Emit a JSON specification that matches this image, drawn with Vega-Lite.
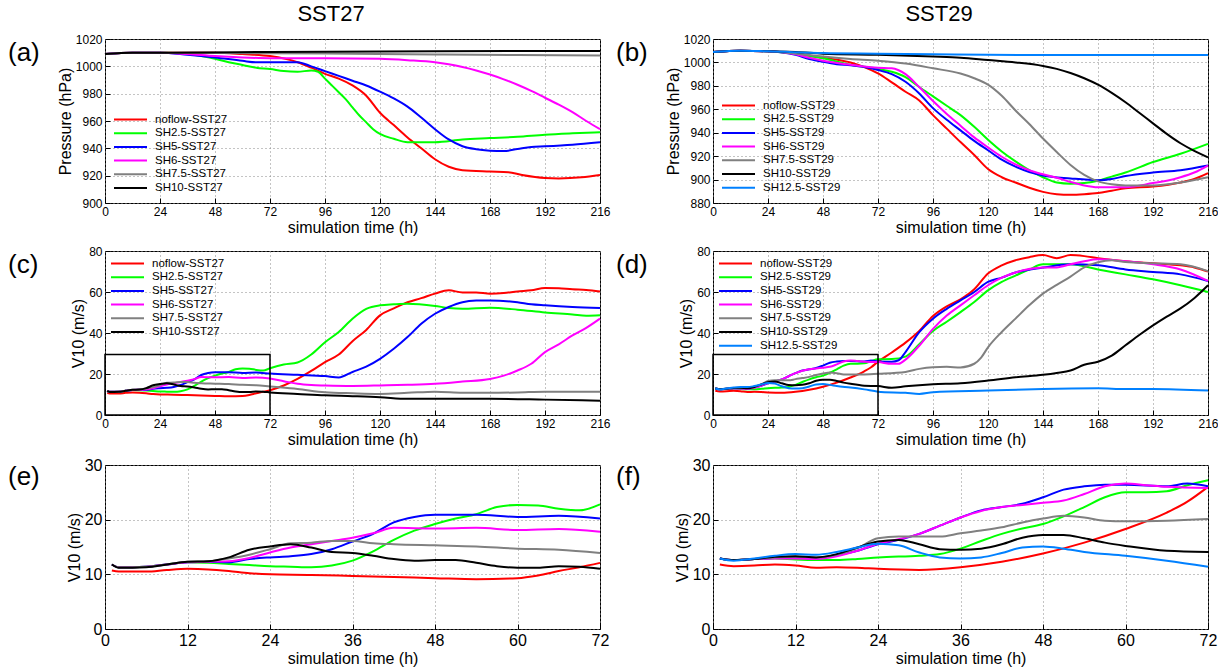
{
  "$schema": "https://vega.github.io/schema/vega-lite/v6.json",
  "background": "white",
  "padding": {"left": 7, "top": 2, "right": 0, "bottom": 0},
  "config": {
    "font": "Liberation Sans",
    "view": {"stroke": "#000", "strokeWidth": 1},
    "axis": {"domain": false, "tickSize": -5, "tickColor": "#000", "labelPadding": 8, "labelFontSize": 12, "labelColor": "#000", "titleFontSize": 16, "titleFontWeight": "normal", "titleColor": "#000", "titlePadding": 2, "grid": true, "gridDash": [1, 3], "gridColor": "#888", "gridWidth": 1, "labelFlush": false, "labelOverlap": false},
    "legend": {"symbolType": "M-3,0H3", "symbolSize": 121, "symbolStrokeWidth": 2, "labelFontSize": 11.5, "labelColor": "#000", "padding": 0, "rowPadding": 1.7, "symbolOffset": 10, "labelOffset": 18, "labelLimit": 200},
    "title": {"fontWeight": "normal", "color": "#000"}
  },
  "datasets": {
    "box": [{"t0": 0, "t1": 72, "v0": 0, "v1": 29.5}],
    "p27": [
      {"s":"noflow-SST27","t":0,"v":1009},{"s":"noflow-SST27","t":12,"v":1010},{"s":"noflow-SST27","t":24,"v":1010},{"s":"noflow-SST27","t":36,"v":1010},{"s":"noflow-SST27","t":48,"v":1010},{"s":"noflow-SST27","t":60,"v":1009},{"s":"noflow-SST27","t":72,"v":1007.5},{"s":"noflow-SST27","t":84,"v":1003},{"s":"noflow-SST27","t":90,"v":999},{"s":"noflow-SST27","t":96,"v":994.5},{"s":"noflow-SST27","t":102,"v":991},{"s":"noflow-SST27","t":108,"v":986},{"s":"noflow-SST27","t":114,"v":978.5},{"s":"noflow-SST27","t":120,"v":966},{"s":"noflow-SST27","t":126,"v":957},{"s":"noflow-SST27","t":132,"v":948},{"s":"noflow-SST27","t":138,"v":940},{"s":"noflow-SST27","t":144,"v":932},{"s":"noflow-SST27","t":150,"v":926.5},{"s":"noflow-SST27","t":156,"v":924},{"s":"noflow-SST27","t":168,"v":923},{"s":"noflow-SST27","t":176,"v":922.5},{"s":"noflow-SST27","t":182,"v":920.5},{"s":"noflow-SST27","t":192,"v":918.3},{"s":"noflow-SST27","t":198,"v":918},{"s":"noflow-SST27","t":208,"v":918.8},{"s":"noflow-SST27","t":216,"v":920.5},
      {"s":"SH2.5-SST27","t":0,"v":1009},{"s":"SH2.5-SST27","t":12,"v":1010},{"s":"SH2.5-SST27","t":24,"v":1010},{"s":"SH2.5-SST27","t":36,"v":1009},{"s":"SH2.5-SST27","t":42,"v":1007.5},{"s":"SH2.5-SST27","t":48,"v":1005.5},{"s":"SH2.5-SST27","t":54,"v":1003},{"s":"SH2.5-SST27","t":60,"v":1001},{"s":"SH2.5-SST27","t":66,"v":999},{"s":"SH2.5-SST27","t":72,"v":998},{"s":"SH2.5-SST27","t":78,"v":996.5},{"s":"SH2.5-SST27","t":84,"v":996},{"s":"SH2.5-SST27","t":90,"v":997},{"s":"SH2.5-SST27","t":93,"v":996},{"s":"SH2.5-SST27","t":96,"v":991},{"s":"SH2.5-SST27","t":99,"v":986},{"s":"SH2.5-SST27","t":102,"v":981},{"s":"SH2.5-SST27","t":105,"v":976},{"s":"SH2.5-SST27","t":108,"v":970},{"s":"SH2.5-SST27","t":111,"v":964},{"s":"SH2.5-SST27","t":114,"v":959},{"s":"SH2.5-SST27","t":117,"v":954},{"s":"SH2.5-SST27","t":120,"v":950.5},{"s":"SH2.5-SST27","t":126,"v":947},{"s":"SH2.5-SST27","t":132,"v":944.5},{"s":"SH2.5-SST27","t":144,"v":944.5},{"s":"SH2.5-SST27","t":156,"v":946.5},{"s":"SH2.5-SST27","t":168,"v":947.5},{"s":"SH2.5-SST27","t":180,"v":948.5},{"s":"SH2.5-SST27","t":192,"v":950},{"s":"SH2.5-SST27","t":204,"v":951},{"s":"SH2.5-SST27","t":216,"v":951.8},
      {"s":"SH5-SST27","t":0,"v":1009},{"s":"SH5-SST27","t":12,"v":1010},{"s":"SH5-SST27","t":24,"v":1010},{"s":"SH5-SST27","t":36,"v":1008.5},{"s":"SH5-SST27","t":48,"v":1006.5},{"s":"SH5-SST27","t":60,"v":1004},{"s":"SH5-SST27","t":66,"v":1003},{"s":"SH5-SST27","t":72,"v":1003},{"s":"SH5-SST27","t":84,"v":1003},{"s":"SH5-SST27","t":90,"v":1000},{"s":"SH5-SST27","t":96,"v":996.5},{"s":"SH5-SST27","t":102,"v":993},{"s":"SH5-SST27","t":108,"v":989.5},{"s":"SH5-SST27","t":114,"v":986},{"s":"SH5-SST27","t":120,"v":981.5},{"s":"SH5-SST27","t":126,"v":976.5},{"s":"SH5-SST27","t":132,"v":970.5},{"s":"SH5-SST27","t":138,"v":962.5},{"s":"SH5-SST27","t":144,"v":954},{"s":"SH5-SST27","t":150,"v":946.5},{"s":"SH5-SST27","t":156,"v":941.5},{"s":"SH5-SST27","t":162,"v":939.3},{"s":"SH5-SST27","t":168,"v":938.3},{"s":"SH5-SST27","t":174,"v":938},{"s":"SH5-SST27","t":180,"v":939.5},{"s":"SH5-SST27","t":186,"v":941},{"s":"SH5-SST27","t":192,"v":941.5},{"s":"SH5-SST27","t":204,"v":942.7},{"s":"SH5-SST27","t":216,"v":944.4},
      {"s":"SH6-SST27","t":0,"v":1009},{"s":"SH6-SST27","t":12,"v":1010},{"s":"SH6-SST27","t":24,"v":1010},{"s":"SH6-SST27","t":36,"v":1009},{"s":"SH6-SST27","t":48,"v":1007.5},{"s":"SH6-SST27","t":60,"v":1006.5},{"s":"SH6-SST27","t":72,"v":1006},{"s":"SH6-SST27","t":96,"v":1006},{"s":"SH6-SST27","t":120,"v":1005.5},{"s":"SH6-SST27","t":132,"v":1004.5},{"s":"SH6-SST27","t":144,"v":1003},{"s":"SH6-SST27","t":150,"v":1001.5},{"s":"SH6-SST27","t":156,"v":999.5},{"s":"SH6-SST27","t":162,"v":997},{"s":"SH6-SST27","t":168,"v":994},{"s":"SH6-SST27","t":174,"v":990.5},{"s":"SH6-SST27","t":180,"v":986.5},{"s":"SH6-SST27","t":186,"v":982},{"s":"SH6-SST27","t":192,"v":977},{"s":"SH6-SST27","t":198,"v":972},{"s":"SH6-SST27","t":204,"v":966.5},{"s":"SH6-SST27","t":210,"v":960},{"s":"SH6-SST27","t":216,"v":954},
      {"s":"SH7.5-SST27","t":0,"v":1009},{"s":"SH7.5-SST27","t":12,"v":1010},{"s":"SH7.5-SST27","t":24,"v":1010},{"s":"SH7.5-SST27","t":48,"v":1009.8},{"s":"SH7.5-SST27","t":96,"v":1009.3},{"s":"SH7.5-SST27","t":144,"v":1008.7},{"s":"SH7.5-SST27","t":180,"v":1008.3},{"s":"SH7.5-SST27","t":216,"v":1008},
      {"s":"SH10-SST27","t":0,"v":1009},{"s":"SH10-SST27","t":12,"v":1010},{"s":"SH10-SST27","t":24,"v":1010},{"s":"SH10-SST27","t":72,"v":1010.5},{"s":"SH10-SST27","t":144,"v":1011},{"s":"SH10-SST27","t":216,"v":1011.3}
    ],
    "p29": [
      {"s":"noflow-SST29","t":0,"v":1009},{"s":"noflow-SST29","t":12,"v":1010},{"s":"noflow-SST29","t":24,"v":1009.5},{"s":"noflow-SST29","t":36,"v":1007.5},{"s":"noflow-SST29","t":48,"v":1004},{"s":"noflow-SST29","t":60,"v":1000},{"s":"noflow-SST29","t":66,"v":996},{"s":"noflow-SST29","t":72,"v":990.6},{"s":"noflow-SST29","t":78,"v":983},{"s":"noflow-SST29","t":84,"v":975},{"s":"noflow-SST29","t":90,"v":967.5},{"s":"noflow-SST29","t":96,"v":955},{"s":"noflow-SST29","t":102,"v":943.5},{"s":"noflow-SST29","t":108,"v":932},{"s":"noflow-SST29","t":114,"v":921},{"s":"noflow-SST29","t":120,"v":909},{"s":"noflow-SST29","t":126,"v":902},{"s":"noflow-SST29","t":132,"v":897.5},{"s":"noflow-SST29","t":138,"v":893},{"s":"noflow-SST29","t":144,"v":889.5},{"s":"noflow-SST29","t":150,"v":887.5},{"s":"noflow-SST29","t":156,"v":887},{"s":"noflow-SST29","t":162,"v":887.5},{"s":"noflow-SST29","t":168,"v":888.5},{"s":"noflow-SST29","t":174,"v":890.5},{"s":"noflow-SST29","t":180,"v":892.5},{"s":"noflow-SST29","t":192,"v":894},{"s":"noflow-SST29","t":204,"v":897.5},{"s":"noflow-SST29","t":210,"v":900.5},{"s":"noflow-SST29","t":216,"v":905.5},
      {"s":"SH2.5-SST29","t":0,"v":1009},{"s":"SH2.5-SST29","t":12,"v":1010},{"s":"SH2.5-SST29","t":24,"v":1009.5},{"s":"SH2.5-SST29","t":36,"v":1007.5},{"s":"SH2.5-SST29","t":48,"v":1003.5},{"s":"SH2.5-SST29","t":60,"v":998},{"s":"SH2.5-SST29","t":72,"v":994.5},{"s":"SH2.5-SST29","t":78,"v":992},{"s":"SH2.5-SST29","t":84,"v":987.5},{"s":"SH2.5-SST29","t":90,"v":979},{"s":"SH2.5-SST29","t":96,"v":971},{"s":"SH2.5-SST29","t":102,"v":963},{"s":"SH2.5-SST29","t":108,"v":955},{"s":"SH2.5-SST29","t":114,"v":945},{"s":"SH2.5-SST29","t":120,"v":934},{"s":"SH2.5-SST29","t":126,"v":924},{"s":"SH2.5-SST29","t":132,"v":915.5},{"s":"SH2.5-SST29","t":138,"v":908},{"s":"SH2.5-SST29","t":144,"v":902},{"s":"SH2.5-SST29","t":150,"v":897.5},{"s":"SH2.5-SST29","t":156,"v":896.5},{"s":"SH2.5-SST29","t":162,"v":897},{"s":"SH2.5-SST29","t":168,"v":899},{"s":"SH2.5-SST29","t":174,"v":902.5},{"s":"SH2.5-SST29","t":180,"v":906},{"s":"SH2.5-SST29","t":192,"v":915},{"s":"SH2.5-SST29","t":204,"v":922},{"s":"SH2.5-SST29","t":216,"v":930.5},
      {"s":"SH5-SST29","t":0,"v":1009},{"s":"SH5-SST29","t":12,"v":1010},{"s":"SH5-SST29","t":24,"v":1009.5},{"s":"SH5-SST29","t":36,"v":1006.5},{"s":"SH5-SST29","t":42,"v":1003},{"s":"SH5-SST29","t":48,"v":1000.5},{"s":"SH5-SST29","t":54,"v":998.5},{"s":"SH5-SST29","t":60,"v":997.5},{"s":"SH5-SST29","t":66,"v":996},{"s":"SH5-SST29","t":72,"v":993.5},{"s":"SH5-SST29","t":78,"v":990},{"s":"SH5-SST29","t":84,"v":983.5},{"s":"SH5-SST29","t":90,"v":973.5},{"s":"SH5-SST29","t":96,"v":961},{"s":"SH5-SST29","t":102,"v":951},{"s":"SH5-SST29","t":108,"v":942},{"s":"SH5-SST29","t":114,"v":933},{"s":"SH5-SST29","t":120,"v":925},{"s":"SH5-SST29","t":126,"v":917},{"s":"SH5-SST29","t":132,"v":911},{"s":"SH5-SST29","t":138,"v":906.5},{"s":"SH5-SST29","t":144,"v":903.5},{"s":"SH5-SST29","t":156,"v":901},{"s":"SH5-SST29","t":168,"v":899.5},{"s":"SH5-SST29","t":174,"v":900.5},{"s":"SH5-SST29","t":180,"v":903},{"s":"SH5-SST29","t":192,"v":906},{"s":"SH5-SST29","t":204,"v":908},{"s":"SH5-SST29","t":216,"v":912},
      {"s":"SH6-SST29","t":0,"v":1009},{"s":"SH6-SST29","t":12,"v":1010},{"s":"SH6-SST29","t":24,"v":1009.5},{"s":"SH6-SST29","t":36,"v":1007},{"s":"SH6-SST29","t":42,"v":1004},{"s":"SH6-SST29","t":48,"v":1001.5},{"s":"SH6-SST29","t":60,"v":998},{"s":"SH6-SST29","t":66,"v":996.5},{"s":"SH6-SST29","t":72,"v":995.5},{"s":"SH6-SST29","t":78,"v":995},{"s":"SH6-SST29","t":84,"v":990},{"s":"SH6-SST29","t":90,"v":979},{"s":"SH6-SST29","t":96,"v":967},{"s":"SH6-SST29","t":102,"v":956},{"s":"SH6-SST29","t":108,"v":946},{"s":"SH6-SST29","t":114,"v":936},{"s":"SH6-SST29","t":120,"v":927.5},{"s":"SH6-SST29","t":126,"v":919.5},{"s":"SH6-SST29","t":132,"v":913},{"s":"SH6-SST29","t":138,"v":908},{"s":"SH6-SST29","t":144,"v":904.5},{"s":"SH6-SST29","t":150,"v":901.5},{"s":"SH6-SST29","t":156,"v":898},{"s":"SH6-SST29","t":162,"v":895},{"s":"SH6-SST29","t":168,"v":893.5},{"s":"SH6-SST29","t":180,"v":893.5},{"s":"SH6-SST29","t":192,"v":897},{"s":"SH6-SST29","t":198,"v":899},{"s":"SH6-SST29","t":204,"v":902},{"s":"SH6-SST29","t":210,"v":906},{"s":"SH6-SST29","t":216,"v":912},
      {"s":"SH7.5-SST29","t":0,"v":1009},{"s":"SH7.5-SST29","t":12,"v":1010},{"s":"SH7.5-SST29","t":24,"v":1009.5},{"s":"SH7.5-SST29","t":36,"v":1007.5},{"s":"SH7.5-SST29","t":48,"v":1005},{"s":"SH7.5-SST29","t":60,"v":1003},{"s":"SH7.5-SST29","t":72,"v":1001.4},{"s":"SH7.5-SST29","t":84,"v":999},{"s":"SH7.5-SST29","t":96,"v":995},{"s":"SH7.5-SST29","t":108,"v":990.5},{"s":"SH7.5-SST29","t":114,"v":986.5},{"s":"SH7.5-SST29","t":120,"v":981},{"s":"SH7.5-SST29","t":126,"v":971.5},{"s":"SH7.5-SST29","t":132,"v":959},{"s":"SH7.5-SST29","t":138,"v":947.5},{"s":"SH7.5-SST29","t":144,"v":935},{"s":"SH7.5-SST29","t":150,"v":923.5},{"s":"SH7.5-SST29","t":156,"v":912.5},{"s":"SH7.5-SST29","t":162,"v":904},{"s":"SH7.5-SST29","t":168,"v":898.5},{"s":"SH7.5-SST29","t":174,"v":896},{"s":"SH7.5-SST29","t":180,"v":895},{"s":"SH7.5-SST29","t":192,"v":895},{"s":"SH7.5-SST29","t":204,"v":897.5},{"s":"SH7.5-SST29","t":216,"v":902},
      {"s":"SH10-SST29","t":0,"v":1009},{"s":"SH10-SST29","t":12,"v":1010},{"s":"SH10-SST29","t":24,"v":1009.5},{"s":"SH10-SST29","t":36,"v":1009},{"s":"SH10-SST29","t":48,"v":1007.5},{"s":"SH10-SST29","t":72,"v":1006.5},{"s":"SH10-SST29","t":96,"v":1005},{"s":"SH10-SST29","t":108,"v":1004},{"s":"SH10-SST29","t":120,"v":1002},{"s":"SH10-SST29","t":132,"v":1000},{"s":"SH10-SST29","t":144,"v":997},{"s":"SH10-SST29","t":150,"v":994.5},{"s":"SH10-SST29","t":156,"v":991},{"s":"SH10-SST29","t":162,"v":986.5},{"s":"SH10-SST29","t":168,"v":981},{"s":"SH10-SST29","t":174,"v":974},{"s":"SH10-SST29","t":180,"v":966},{"s":"SH10-SST29","t":186,"v":957},{"s":"SH10-SST29","t":192,"v":948},{"s":"SH10-SST29","t":198,"v":939},{"s":"SH10-SST29","t":204,"v":931},{"s":"SH10-SST29","t":210,"v":924.5},{"s":"SH10-SST29","t":216,"v":919},
      {"s":"SH12.5-SST29","t":0,"v":1009},{"s":"SH12.5-SST29","t":12,"v":1010},{"s":"SH12.5-SST29","t":24,"v":1009.5},{"s":"SH12.5-SST29","t":48,"v":1008},{"s":"SH12.5-SST29","t":72,"v":1007.5},{"s":"SH12.5-SST29","t":96,"v":1007},{"s":"SH12.5-SST29","t":120,"v":1006.5},{"s":"SH12.5-SST29","t":168,"v":1006.3},{"s":"SH12.5-SST29","t":216,"v":1006.3}
    ],
    "v27": [
      {"s":"noflow-SST27","t":1,"v":10.7},{"s":"noflow-SST27","t":2,"v":10.5},{"s":"noflow-SST27","t":6,"v":10.5},{"s":"noflow-SST27","t":9,"v":10.8},{"s":"noflow-SST27","t":12,"v":11},{"s":"noflow-SST27","t":15,"v":10.9},{"s":"noflow-SST27","t":18,"v":10.6},{"s":"noflow-SST27","t":21,"v":10.2},{"s":"noflow-SST27","t":24,"v":10},{"s":"noflow-SST27","t":30,"v":9.9},{"s":"noflow-SST27","t":36,"v":9.7},{"s":"noflow-SST27","t":42,"v":9.5},{"s":"noflow-SST27","t":48,"v":9.3},{"s":"noflow-SST27","t":54,"v":9.1},{"s":"noflow-SST27","t":60,"v":9.3},{"s":"noflow-SST27","t":63,"v":9.8},{"s":"noflow-SST27","t":66,"v":10.6},{"s":"noflow-SST27","t":69,"v":11.3},{"s":"noflow-SST27","t":72,"v":12.1},{"s":"noflow-SST27","t":78,"v":14.4},{"s":"noflow-SST27","t":84,"v":17.6},{"s":"noflow-SST27","t":90,"v":21.5},{"s":"noflow-SST27","t":96,"v":25.8},{"s":"noflow-SST27","t":102,"v":29.5},{"s":"noflow-SST27","t":108,"v":36},{"s":"noflow-SST27","t":114,"v":41.5},{"s":"noflow-SST27","t":120,"v":48.6},{"s":"noflow-SST27","t":126,"v":52},{"s":"noflow-SST27","t":132,"v":55},{"s":"noflow-SST27","t":138,"v":57},{"s":"noflow-SST27","t":144,"v":59.2},{"s":"noflow-SST27","t":150,"v":60.8},{"s":"noflow-SST27","t":156,"v":59.8},{"s":"noflow-SST27","t":162,"v":59.8},{"s":"noflow-SST27","t":168,"v":59.2},{"s":"noflow-SST27","t":174,"v":59.5},{"s":"noflow-SST27","t":180,"v":60.3},{"s":"noflow-SST27","t":186,"v":60.8},{"s":"noflow-SST27","t":192,"v":62},{"s":"noflow-SST27","t":198,"v":61.8},{"s":"noflow-SST27","t":204,"v":61.3},{"s":"noflow-SST27","t":210,"v":61},{"s":"noflow-SST27","t":216,"v":60.3},
      {"s":"SH2.5-SST27","t":1,"v":11.8},{"s":"SH2.5-SST27","t":2,"v":11.3},{"s":"SH2.5-SST27","t":6,"v":11.4},{"s":"SH2.5-SST27","t":9,"v":11.8},{"s":"SH2.5-SST27","t":12,"v":12.2},{"s":"SH2.5-SST27","t":15,"v":12.1},{"s":"SH2.5-SST27","t":18,"v":11.9},{"s":"SH2.5-SST27","t":21,"v":11.7},{"s":"SH2.5-SST27","t":24,"v":11.5},{"s":"SH2.5-SST27","t":27,"v":11.4},{"s":"SH2.5-SST27","t":30,"v":11.3},{"s":"SH2.5-SST27","t":33,"v":11.6},{"s":"SH2.5-SST27","t":36,"v":12.5},{"s":"SH2.5-SST27","t":39,"v":14.2},{"s":"SH2.5-SST27","t":42,"v":16.3},{"s":"SH2.5-SST27","t":45,"v":18},{"s":"SH2.5-SST27","t":48,"v":19.2},{"s":"SH2.5-SST27","t":51,"v":20.2},{"s":"SH2.5-SST27","t":54,"v":21},{"s":"SH2.5-SST27","t":57,"v":22.3},{"s":"SH2.5-SST27","t":60,"v":22.7},{"s":"SH2.5-SST27","t":63,"v":22.6},{"s":"SH2.5-SST27","t":66,"v":22},{"s":"SH2.5-SST27","t":69,"v":21.7},{"s":"SH2.5-SST27","t":72,"v":22.8},{"s":"SH2.5-SST27","t":78,"v":24.6},{"s":"SH2.5-SST27","t":84,"v":25.6},{"s":"SH2.5-SST27","t":90,"v":29.5},{"s":"SH2.5-SST27","t":96,"v":35.5},{"s":"SH2.5-SST27","t":102,"v":40.5},{"s":"SH2.5-SST27","t":108,"v":47},{"s":"SH2.5-SST27","t":114,"v":51.8},{"s":"SH2.5-SST27","t":120,"v":53.5},{"s":"SH2.5-SST27","t":126,"v":54},{"s":"SH2.5-SST27","t":132,"v":54.3},{"s":"SH2.5-SST27","t":144,"v":53.2},{"s":"SH2.5-SST27","t":150,"v":52.2},{"s":"SH2.5-SST27","t":156,"v":51.8},{"s":"SH2.5-SST27","t":168,"v":52.3},{"s":"SH2.5-SST27","t":180,"v":51.4},{"s":"SH2.5-SST27","t":192,"v":50},{"s":"SH2.5-SST27","t":204,"v":49},{"s":"SH2.5-SST27","t":210,"v":48.4},{"s":"SH2.5-SST27","t":216,"v":48.6},
      {"s":"SH5-SST27","t":1,"v":11.8},{"s":"SH5-SST27","t":2,"v":11.3},{"s":"SH5-SST27","t":6,"v":11.4},{"s":"SH5-SST27","t":9,"v":11.8},{"s":"SH5-SST27","t":12,"v":12.2},{"s":"SH5-SST27","t":15,"v":12.3},{"s":"SH5-SST27","t":18,"v":12.2},{"s":"SH5-SST27","t":21,"v":12.8},{"s":"SH5-SST27","t":24,"v":13.1},{"s":"SH5-SST27","t":27,"v":13.3},{"s":"SH5-SST27","t":30,"v":13.7},{"s":"SH5-SST27","t":33,"v":14.6},{"s":"SH5-SST27","t":36,"v":16},{"s":"SH5-SST27","t":39,"v":17.4},{"s":"SH5-SST27","t":42,"v":19.5},{"s":"SH5-SST27","t":45,"v":20.5},{"s":"SH5-SST27","t":48,"v":20.9},{"s":"SH5-SST27","t":54,"v":20.9},{"s":"SH5-SST27","t":60,"v":20.5},{"s":"SH5-SST27","t":66,"v":20.7},{"s":"SH5-SST27","t":72,"v":20.2},{"s":"SH5-SST27","t":84,"v":19.6},{"s":"SH5-SST27","t":96,"v":19},{"s":"SH5-SST27","t":102,"v":18.3},{"s":"SH5-SST27","t":108,"v":21},{"s":"SH5-SST27","t":114,"v":23.6},{"s":"SH5-SST27","t":120,"v":27.4},{"s":"SH5-SST27","t":126,"v":32.3},{"s":"SH5-SST27","t":132,"v":38},{"s":"SH5-SST27","t":138,"v":44.5},{"s":"SH5-SST27","t":144,"v":49.4},{"s":"SH5-SST27","t":150,"v":52.7},{"s":"SH5-SST27","t":156,"v":55},{"s":"SH5-SST27","t":162,"v":55.8},{"s":"SH5-SST27","t":168,"v":55.9},{"s":"SH5-SST27","t":180,"v":55},{"s":"SH5-SST27","t":186,"v":54},{"s":"SH5-SST27","t":192,"v":53.5},{"s":"SH5-SST27","t":204,"v":52.7},{"s":"SH5-SST27","t":216,"v":52.2},
      {"s":"SH6-SST27","t":1,"v":11.8},{"s":"SH6-SST27","t":2,"v":11.3},{"s":"SH6-SST27","t":6,"v":11.4},{"s":"SH6-SST27","t":9,"v":11.8},{"s":"SH6-SST27","t":12,"v":12.2},{"s":"SH6-SST27","t":15,"v":12.3},{"s":"SH6-SST27","t":18,"v":12.4},{"s":"SH6-SST27","t":21,"v":13},{"s":"SH6-SST27","t":24,"v":14},{"s":"SH6-SST27","t":27,"v":14.9},{"s":"SH6-SST27","t":30,"v":15.5},{"s":"SH6-SST27","t":33,"v":16.1},{"s":"SH6-SST27","t":36,"v":16.7},{"s":"SH6-SST27","t":39,"v":17.5},{"s":"SH6-SST27","t":42,"v":18.5},{"s":"SH6-SST27","t":48,"v":18.4},{"s":"SH6-SST27","t":54,"v":18.5},{"s":"SH6-SST27","t":60,"v":18.1},{"s":"SH6-SST27","t":66,"v":18.3},{"s":"SH6-SST27","t":72,"v":17.8},{"s":"SH6-SST27","t":78,"v":16.5},{"s":"SH6-SST27","t":84,"v":15.2},{"s":"SH6-SST27","t":90,"v":14.6},{"s":"SH6-SST27","t":96,"v":14.4},{"s":"SH6-SST27","t":108,"v":14.2},{"s":"SH6-SST27","t":120,"v":14.4},{"s":"SH6-SST27","t":132,"v":14.7},{"s":"SH6-SST27","t":144,"v":15.2},{"s":"SH6-SST27","t":156,"v":16.3},{"s":"SH6-SST27","t":168,"v":17.6},{"s":"SH6-SST27","t":174,"v":19.2},{"s":"SH6-SST27","t":180,"v":21.7},{"s":"SH6-SST27","t":186,"v":25},{"s":"SH6-SST27","t":192,"v":30.7},{"s":"SH6-SST27","t":198,"v":34.5},{"s":"SH6-SST27","t":204,"v":38.8},{"s":"SH6-SST27","t":210,"v":42.5},{"s":"SH6-SST27","t":216,"v":47},
      {"s":"SH7.5-SST27","t":1,"v":11.8},{"s":"SH7.5-SST27","t":2,"v":11.3},{"s":"SH7.5-SST27","t":6,"v":11.4},{"s":"SH7.5-SST27","t":9,"v":11.8},{"s":"SH7.5-SST27","t":12,"v":12.3},{"s":"SH7.5-SST27","t":15,"v":12.4},{"s":"SH7.5-SST27","t":18,"v":12.9},{"s":"SH7.5-SST27","t":21,"v":13.6},{"s":"SH7.5-SST27","t":24,"v":14.6},{"s":"SH7.5-SST27","t":27,"v":15.7},{"s":"SH7.5-SST27","t":30,"v":15.8},{"s":"SH7.5-SST27","t":33,"v":16.1},{"s":"SH7.5-SST27","t":36,"v":16.1},{"s":"SH7.5-SST27","t":39,"v":15.7},{"s":"SH7.5-SST27","t":42,"v":15.5},{"s":"SH7.5-SST27","t":48,"v":15.3},{"s":"SH7.5-SST27","t":54,"v":15.1},{"s":"SH7.5-SST27","t":60,"v":14.7},{"s":"SH7.5-SST27","t":66,"v":14.5},{"s":"SH7.5-SST27","t":72,"v":13.9},{"s":"SH7.5-SST27","t":84,"v":12.7},{"s":"SH7.5-SST27","t":96,"v":11.1},{"s":"SH7.5-SST27","t":108,"v":10.6},{"s":"SH7.5-SST27","t":120,"v":10.3},{"s":"SH7.5-SST27","t":132,"v":10.8},{"s":"SH7.5-SST27","t":144,"v":11.4},{"s":"SH7.5-SST27","t":156,"v":10.9},{"s":"SH7.5-SST27","t":168,"v":10.8},{"s":"SH7.5-SST27","t":180,"v":11},{"s":"SH7.5-SST27","t":192,"v":11.4},{"s":"SH7.5-SST27","t":216,"v":11.4},
      {"s":"SH10-SST27","t":1,"v":11.8},{"s":"SH10-SST27","t":2,"v":11.2},{"s":"SH10-SST27","t":6,"v":11.3},{"s":"SH10-SST27","t":9,"v":11.8},{"s":"SH10-SST27","t":12,"v":12.3},{"s":"SH10-SST27","t":15,"v":12.4},{"s":"SH10-SST27","t":18,"v":13.1},{"s":"SH10-SST27","t":21,"v":14.5},{"s":"SH10-SST27","t":24,"v":15.1},{"s":"SH10-SST27","t":27,"v":15.5},{"s":"SH10-SST27","t":30,"v":14.9},{"s":"SH10-SST27","t":33,"v":14.1},{"s":"SH10-SST27","t":36,"v":13.9},{"s":"SH10-SST27","t":39,"v":13.4},{"s":"SH10-SST27","t":42,"v":12.8},{"s":"SH10-SST27","t":45,"v":12.5},{"s":"SH10-SST27","t":48,"v":12.6},{"s":"SH10-SST27","t":51,"v":12.6},{"s":"SH10-SST27","t":54,"v":12.1},{"s":"SH10-SST27","t":57,"v":11.5},{"s":"SH10-SST27","t":60,"v":11.2},{"s":"SH10-SST27","t":63,"v":11.2},{"s":"SH10-SST27","t":66,"v":11.5},{"s":"SH10-SST27","t":69,"v":11.4},{"s":"SH10-SST27","t":72,"v":11},{"s":"SH10-SST27","t":84,"v":10.3},{"s":"SH10-SST27","t":96,"v":9.6},{"s":"SH10-SST27","t":108,"v":9.2},{"s":"SH10-SST27","t":120,"v":8.7},{"s":"SH10-SST27","t":132,"v":7.9},{"s":"SH10-SST27","t":144,"v":7.9},{"s":"SH10-SST27","t":168,"v":7.9},{"s":"SH10-SST27","t":192,"v":7.5},{"s":"SH10-SST27","t":216,"v":7}
    ],
    "v29": [
      {"s":"noflow-SST29","t":1,"v":11.8},{"s":"noflow-SST29","t":3,"v":11.5},{"s":"noflow-SST29","t":6,"v":11.6},{"s":"noflow-SST29","t":9,"v":11.8},{"s":"noflow-SST29","t":12,"v":11.6},{"s":"noflow-SST29","t":15,"v":11.2},{"s":"noflow-SST29","t":18,"v":11.3},{"s":"noflow-SST29","t":21,"v":11.2},{"s":"noflow-SST29","t":24,"v":11},{"s":"noflow-SST29","t":30,"v":10.8},{"s":"noflow-SST29","t":36,"v":11.3},{"s":"noflow-SST29","t":42,"v":12.3},{"s":"noflow-SST29","t":48,"v":13.8},{"s":"noflow-SST29","t":54,"v":15.8},{"s":"noflow-SST29","t":60,"v":18.3},{"s":"noflow-SST29","t":66,"v":21.3},{"s":"noflow-SST29","t":69,"v":23.3},{"s":"noflow-SST29","t":72,"v":26},{"s":"noflow-SST29","t":78,"v":30.5},{"s":"noflow-SST29","t":84,"v":35.3},{"s":"noflow-SST29","t":90,"v":41},{"s":"noflow-SST29","t":96,"v":48.3},{"s":"noflow-SST29","t":102,"v":53},{"s":"noflow-SST29","t":108,"v":56.4},{"s":"noflow-SST29","t":114,"v":61.3},{"s":"noflow-SST29","t":120,"v":69},{"s":"noflow-SST29","t":126,"v":73},{"s":"noflow-SST29","t":132,"v":75.5},{"s":"noflow-SST29","t":138,"v":77},{"s":"noflow-SST29","t":144,"v":78},{"s":"noflow-SST29","t":150,"v":76.5},{"s":"noflow-SST29","t":156,"v":78},{"s":"noflow-SST29","t":162,"v":77.5},{"s":"noflow-SST29","t":168,"v":76.5},{"s":"noflow-SST29","t":180,"v":75},{"s":"noflow-SST29","t":192,"v":74},{"s":"noflow-SST29","t":204,"v":73},{"s":"noflow-SST29","t":210,"v":72},{"s":"noflow-SST29","t":216,"v":70},
      {"s":"SH2.5-SST29","t":1,"v":12.9},{"s":"SH2.5-SST29","t":3,"v":12.6},{"s":"SH2.5-SST29","t":6,"v":12.8},{"s":"SH2.5-SST29","t":9,"v":12.9},{"s":"SH2.5-SST29","t":12,"v":12.7},{"s":"SH2.5-SST29","t":15,"v":12.6},{"s":"SH2.5-SST29","t":18,"v":12.6},{"s":"SH2.5-SST29","t":21,"v":12.8},{"s":"SH2.5-SST29","t":24,"v":13.1},{"s":"SH2.5-SST29","t":30,"v":13.4},{"s":"SH2.5-SST29","t":33,"v":13.7},{"s":"SH2.5-SST29","t":36,"v":14.7},{"s":"SH2.5-SST29","t":39,"v":16.1},{"s":"SH2.5-SST29","t":42,"v":17.4},{"s":"SH2.5-SST29","t":45,"v":18.4},{"s":"SH2.5-SST29","t":48,"v":19.2},{"s":"SH2.5-SST29","t":51,"v":20.6},{"s":"SH2.5-SST29","t":54,"v":22.3},{"s":"SH2.5-SST29","t":57,"v":24.1},{"s":"SH2.5-SST29","t":60,"v":25},{"s":"SH2.5-SST29","t":63,"v":25},{"s":"SH2.5-SST29","t":66,"v":25.2},{"s":"SH2.5-SST29","t":69,"v":26.3},{"s":"SH2.5-SST29","t":72,"v":27.2},{"s":"SH2.5-SST29","t":78,"v":27.3},{"s":"SH2.5-SST29","t":84,"v":28.5},{"s":"SH2.5-SST29","t":90,"v":34.5},{"s":"SH2.5-SST29","t":96,"v":41},{"s":"SH2.5-SST29","t":102,"v":45.5},{"s":"SH2.5-SST29","t":108,"v":50.2},{"s":"SH2.5-SST29","t":114,"v":55.1},{"s":"SH2.5-SST29","t":120,"v":60.8},{"s":"SH2.5-SST29","t":126,"v":64.9},{"s":"SH2.5-SST29","t":132,"v":68},{"s":"SH2.5-SST29","t":138,"v":71},{"s":"SH2.5-SST29","t":144,"v":73.5},{"s":"SH2.5-SST29","t":156,"v":73.5},{"s":"SH2.5-SST29","t":168,"v":71},{"s":"SH2.5-SST29","t":180,"v":68.6},{"s":"SH2.5-SST29","t":192,"v":66.2},{"s":"SH2.5-SST29","t":204,"v":63.3},{"s":"SH2.5-SST29","t":216,"v":60},
      {"s":"SH5-SST29","t":1,"v":12.9},{"s":"SH5-SST29","t":3,"v":12.6},{"s":"SH5-SST29","t":6,"v":12.8},{"s":"SH5-SST29","t":9,"v":13},{"s":"SH5-SST29","t":12,"v":13.1},{"s":"SH5-SST29","t":15,"v":12.9},{"s":"SH5-SST29","t":18,"v":13.5},{"s":"SH5-SST29","t":21,"v":14.3},{"s":"SH5-SST29","t":24,"v":15.5},{"s":"SH5-SST29","t":27,"v":16.3},{"s":"SH5-SST29","t":30,"v":17.4},{"s":"SH5-SST29","t":33,"v":18.9},{"s":"SH5-SST29","t":36,"v":20.4},{"s":"SH5-SST29","t":39,"v":21.7},{"s":"SH5-SST29","t":42,"v":22.3},{"s":"SH5-SST29","t":45,"v":22.9},{"s":"SH5-SST29","t":48,"v":24.1},{"s":"SH5-SST29","t":51,"v":25.5},{"s":"SH5-SST29","t":54,"v":26.1},{"s":"SH5-SST29","t":57,"v":26.4},{"s":"SH5-SST29","t":60,"v":26.4},{"s":"SH5-SST29","t":66,"v":26.1},{"s":"SH5-SST29","t":69,"v":26.6},{"s":"SH5-SST29","t":72,"v":26.1},{"s":"SH5-SST29","t":78,"v":26},{"s":"SH5-SST29","t":81,"v":26.7},{"s":"SH5-SST29","t":84,"v":30.7},{"s":"SH5-SST29","t":90,"v":40.4},{"s":"SH5-SST29","t":96,"v":47},{"s":"SH5-SST29","t":102,"v":51.8},{"s":"SH5-SST29","t":108,"v":55.9},{"s":"SH5-SST29","t":114,"v":60},{"s":"SH5-SST29","t":120,"v":64.9},{"s":"SH5-SST29","t":126,"v":67},{"s":"SH5-SST29","t":132,"v":69.5},{"s":"SH5-SST29","t":144,"v":71.9},{"s":"SH5-SST29","t":156,"v":73.5},{"s":"SH5-SST29","t":168,"v":73},{"s":"SH5-SST29","t":180,"v":71},{"s":"SH5-SST29","t":192,"v":69.8},{"s":"SH5-SST29","t":204,"v":68.6},{"s":"SH5-SST29","t":216,"v":65.4},
      {"s":"SH6-SST29","t":1,"v":12.9},{"s":"SH6-SST29","t":3,"v":12.6},{"s":"SH6-SST29","t":6,"v":12.8},{"s":"SH6-SST29","t":9,"v":12.9},{"s":"SH6-SST29","t":12,"v":12.9},{"s":"SH6-SST29","t":15,"v":12.8},{"s":"SH6-SST29","t":18,"v":13.3},{"s":"SH6-SST29","t":21,"v":14.3},{"s":"SH6-SST29","t":24,"v":15.6},{"s":"SH6-SST29","t":27,"v":16.4},{"s":"SH6-SST29","t":30,"v":17.4},{"s":"SH6-SST29","t":33,"v":18.9},{"s":"SH6-SST29","t":36,"v":20.4},{"s":"SH6-SST29","t":39,"v":21.6},{"s":"SH6-SST29","t":42,"v":22.3},{"s":"SH6-SST29","t":45,"v":22.7},{"s":"SH6-SST29","t":48,"v":23.1},{"s":"SH6-SST29","t":51,"v":23.5},{"s":"SH6-SST29","t":54,"v":24.7},{"s":"SH6-SST29","t":57,"v":26.1},{"s":"SH6-SST29","t":60,"v":26.6},{"s":"SH6-SST29","t":63,"v":26.3},{"s":"SH6-SST29","t":66,"v":26},{"s":"SH6-SST29","t":72,"v":25.8},{"s":"SH6-SST29","t":78,"v":25},{"s":"SH6-SST29","t":81,"v":25},{"s":"SH6-SST29","t":84,"v":27},{"s":"SH6-SST29","t":90,"v":33.8},{"s":"SH6-SST29","t":96,"v":42},{"s":"SH6-SST29","t":102,"v":48.5},{"s":"SH6-SST29","t":108,"v":53.5},{"s":"SH6-SST29","t":114,"v":58.4},{"s":"SH6-SST29","t":120,"v":63.3},{"s":"SH6-SST29","t":126,"v":67},{"s":"SH6-SST29","t":132,"v":69.5},{"s":"SH6-SST29","t":144,"v":71.9},{"s":"SH6-SST29","t":150,"v":72},{"s":"SH6-SST29","t":156,"v":73.5},{"s":"SH6-SST29","t":162,"v":75},{"s":"SH6-SST29","t":168,"v":76},{"s":"SH6-SST29","t":180,"v":75},{"s":"SH6-SST29","t":192,"v":73.5},{"s":"SH6-SST29","t":204,"v":71},{"s":"SH6-SST29","t":216,"v":65.4},
      {"s":"SH7.5-SST29","t":1,"v":12.9},{"s":"SH7.5-SST29","t":3,"v":12.6},{"s":"SH7.5-SST29","t":6,"v":12.8},{"s":"SH7.5-SST29","t":9,"v":13.1},{"s":"SH7.5-SST29","t":12,"v":13.2},{"s":"SH7.5-SST29","t":15,"v":13.1},{"s":"SH7.5-SST29","t":18,"v":13.6},{"s":"SH7.5-SST29","t":21,"v":14.8},{"s":"SH7.5-SST29","t":24,"v":16.6},{"s":"SH7.5-SST29","t":27,"v":16.9},{"s":"SH7.5-SST29","t":30,"v":16.9},{"s":"SH7.5-SST29","t":33,"v":16.9},{"s":"SH7.5-SST29","t":36,"v":17.5},{"s":"SH7.5-SST29","t":39,"v":18},{"s":"SH7.5-SST29","t":42,"v":18.6},{"s":"SH7.5-SST29","t":45,"v":19.5},{"s":"SH7.5-SST29","t":48,"v":20.2},{"s":"SH7.5-SST29","t":51,"v":20.7},{"s":"SH7.5-SST29","t":54,"v":20.4},{"s":"SH7.5-SST29","t":57,"v":19.8},{"s":"SH7.5-SST29","t":60,"v":19.7},{"s":"SH7.5-SST29","t":66,"v":19.8},{"s":"SH7.5-SST29","t":72,"v":20.1},{"s":"SH7.5-SST29","t":84,"v":21},{"s":"SH7.5-SST29","t":90,"v":22.5},{"s":"SH7.5-SST29","t":96,"v":23.3},{"s":"SH7.5-SST29","t":102,"v":23.5},{"s":"SH7.5-SST29","t":108,"v":23.2},{"s":"SH7.5-SST29","t":114,"v":25},{"s":"SH7.5-SST29","t":117,"v":28},{"s":"SH7.5-SST29","t":120,"v":33},{"s":"SH7.5-SST29","t":126,"v":40.5},{"s":"SH7.5-SST29","t":132,"v":47},{"s":"SH7.5-SST29","t":138,"v":53.5},{"s":"SH7.5-SST29","t":144,"v":59.2},{"s":"SH7.5-SST29","t":150,"v":63.5},{"s":"SH7.5-SST29","t":156,"v":67.5},{"s":"SH7.5-SST29","t":162,"v":72},{"s":"SH7.5-SST29","t":168,"v":74.5},{"s":"SH7.5-SST29","t":174,"v":75.5},{"s":"SH7.5-SST29","t":180,"v":74.6},{"s":"SH7.5-SST29","t":192,"v":74},{"s":"SH7.5-SST29","t":204,"v":73.5},{"s":"SH7.5-SST29","t":216,"v":70.2},
      {"s":"SH10-SST29","t":1,"v":12.9},{"s":"SH10-SST29","t":3,"v":12.6},{"s":"SH10-SST29","t":6,"v":12.8},{"s":"SH10-SST29","t":9,"v":13.2},{"s":"SH10-SST29","t":12,"v":13.3},{"s":"SH10-SST29","t":15,"v":13.1},{"s":"SH10-SST29","t":18,"v":13.7},{"s":"SH10-SST29","t":21,"v":14.9},{"s":"SH10-SST29","t":24,"v":16},{"s":"SH10-SST29","t":27,"v":16.3},{"s":"SH10-SST29","t":30,"v":15.5},{"s":"SH10-SST29","t":33,"v":14.6},{"s":"SH10-SST29","t":36,"v":14.5},{"s":"SH10-SST29","t":39,"v":14.7},{"s":"SH10-SST29","t":42,"v":15.5},{"s":"SH10-SST29","t":45,"v":16.7},{"s":"SH10-SST29","t":48,"v":17.2},{"s":"SH10-SST29","t":51,"v":17.2},{"s":"SH10-SST29","t":54,"v":16.6},{"s":"SH10-SST29","t":57,"v":15.8},{"s":"SH10-SST29","t":60,"v":15.2},{"s":"SH10-SST29","t":66,"v":14.3},{"s":"SH10-SST29","t":72,"v":14.1},{"s":"SH10-SST29","t":78,"v":13.3},{"s":"SH10-SST29","t":84,"v":14},{"s":"SH10-SST29","t":96,"v":15},{"s":"SH10-SST29","t":108,"v":15.5},{"s":"SH10-SST29","t":120,"v":16.8},{"s":"SH10-SST29","t":132,"v":18.4},{"s":"SH10-SST29","t":144,"v":19.6},{"s":"SH10-SST29","t":150,"v":20.5},{"s":"SH10-SST29","t":156,"v":21.7},{"s":"SH10-SST29","t":162,"v":24.5},{"s":"SH10-SST29","t":168,"v":26},{"s":"SH10-SST29","t":174,"v":29},{"s":"SH10-SST29","t":180,"v":34},{"s":"SH10-SST29","t":186,"v":39},{"s":"SH10-SST29","t":192,"v":43.7},{"s":"SH10-SST29","t":198,"v":48},{"s":"SH10-SST29","t":204,"v":52},{"s":"SH10-SST29","t":210,"v":57},{"s":"SH10-SST29","t":216,"v":63.3},
      {"s":"SH12.5-SST29","t":1,"v":12.9},{"s":"SH12.5-SST29","t":3,"v":12.5},{"s":"SH12.5-SST29","t":6,"v":12.9},{"s":"SH12.5-SST29","t":9,"v":13.4},{"s":"SH12.5-SST29","t":12,"v":13.7},{"s":"SH12.5-SST29","t":15,"v":13.6},{"s":"SH12.5-SST29","t":18,"v":14.1},{"s":"SH12.5-SST29","t":21,"v":14.9},{"s":"SH12.5-SST29","t":24,"v":15.6},{"s":"SH12.5-SST29","t":27,"v":15.3},{"s":"SH12.5-SST29","t":30,"v":14},{"s":"SH12.5-SST29","t":33,"v":13.1},{"s":"SH12.5-SST29","t":36,"v":12.9},{"s":"SH12.5-SST29","t":39,"v":13.1},{"s":"SH12.5-SST29","t":42,"v":13.9},{"s":"SH12.5-SST29","t":45,"v":14.9},{"s":"SH12.5-SST29","t":48,"v":15.1},{"s":"SH12.5-SST29","t":51,"v":14.7},{"s":"SH12.5-SST29","t":54,"v":14.1},{"s":"SH12.5-SST29","t":60,"v":13.4},{"s":"SH12.5-SST29","t":66,"v":12.5},{"s":"SH12.5-SST29","t":72,"v":11.4},{"s":"SH12.5-SST29","t":84,"v":10.8},{"s":"SH12.5-SST29","t":90,"v":10.3},{"s":"SH12.5-SST29","t":96,"v":11.1},{"s":"SH12.5-SST29","t":120,"v":11.9},{"s":"SH12.5-SST29","t":144,"v":12.7},{"s":"SH12.5-SST29","t":168,"v":13},{"s":"SH12.5-SST29","t":180,"v":12.7},{"s":"SH12.5-SST29","t":192,"v":12.7},{"s":"SH12.5-SST29","t":216,"v":11.9}
    ]
  },
  "hconcat": [
    {
      "title": {"text": "SST27", "fontSize": 22, "offset": 7, "anchor": "middle", "dx": 22},
      "spacing": 8,
      "resolve": {"scale": {"x": "independent", "y": "independent", "color": "independent"}, "axis": {"x": "independent", "y": "independent"}, "legend": {"color": "independent"}},
      "vconcat": [
        {
          "width": 495, "height": 164,
          "title": {"text": "(a)", "anchor": "start", "frame": "group", "dx": -97, "dy": 33, "offset": 0, "fontSize": 26},
          "data": {"name": "p27"},
          "mark": {"type": "line", "strokeWidth": 2, "interpolate": "monotone"},
          "encoding": {
            "x": {"field": "t", "type": "quantitative", "scale": {"domain": [0, 216], "nice": false}, "axis": {"values": [0, 24, 48, 72, 96, 120, 144, 168, 192, 216], "title": "simulation time (h)"}},
            "y": {"field": "v", "type": "quantitative", "scale": {"domain": [900, 1020], "nice": false, "zero": false}, "axis": {"values": [900, 920, 940, 960, 980, 1000, 1020], "format": "d", "title": "Pressure (hPa)"}},
            "color": {"field": "s", "type": "nominal", "scale": {"domain": ["noflow-SST27", "SH2.5-SST27", "SH5-SST27", "SH6-SST27", "SH7.5-SST27", "SH10-SST27"], "range": ["#ff0000", "#00ff00", "#0000ff", "#ff00ff", "#808080", "#000000"]}, "legend": {"title": null, "orient": "bottom-left", "offset": 9}}
          }
        },
        {
          "width": 495, "height": 164,
          "title": {"text": "(c)", "anchor": "start", "frame": "group", "dx": -97, "dy": 33, "offset": 0, "fontSize": 26},
          "layer": [
            {
              "data": {"name": "v27"},
              "mark": {"type": "line", "strokeWidth": 2, "interpolate": "monotone"},
              "encoding": {
                "x": {"field": "t", "type": "quantitative", "scale": {"domain": [0, 216], "nice": false}, "axis": {"values": [0, 24, 48, 72, 96, 120, 144, 168, 192, 216], "title": "simulation time (h)"}},
                "y": {"field": "v", "type": "quantitative", "scale": {"domain": [0, 80], "nice": false}, "axis": {"values": [0, 20, 40, 60, 80], "title": "V10 (m/s)"}},
                "color": {"field": "s", "type": "nominal", "scale": {"domain": ["noflow-SST27", "SH2.5-SST27", "SH5-SST27", "SH6-SST27", "SH7.5-SST27", "SH10-SST27"], "range": ["#ff0000", "#00ff00", "#0000ff", "#ff00ff", "#808080", "#000000"]}, "legend": {"title": null, "orient": "top-left", "offset": 6}}
              }
            },
            {
              "data": {"name": "box"},
              "mark": {"type": "rect", "filled": false, "stroke": "#000", "strokeWidth": 1.5},
              "encoding": {
                "x": {"field": "t0", "type": "quantitative", "title": "simulation time (h)"},
                "x2": {"field": "t1"},
                "y": {"field": "v0", "type": "quantitative", "title": "V10 (m/s)"},
                "y2": {"field": "v1"}
              }
            }
          ]
        },
        {
          "width": 495, "height": 164,
          "title": {"text": "(e)", "anchor": "start", "frame": "group", "dx": -97, "dy": 33, "offset": 0, "fontSize": 26},
          "data": {"name": "v27"},
          "transform": [{"filter": "datum.t <= 72"}],
          "mark": {"type": "line", "strokeWidth": 2, "interpolate": "monotone"},
          "encoding": {
            "x": {"field": "t", "type": "quantitative", "scale": {"domain": [0, 72], "nice": false}, "axis": {"values": [0, 12, 24, 36, 48, 60, 72], "title": "simulation time (h)", "labelFontSize": 16}},
            "y": {"field": "v", "type": "quantitative", "scale": {"domain": [0, 30], "nice": false}, "axis": {"values": [0, 10, 20, 30], "title": "V10 (m/s)", "labelFontSize": 16}},
            "color": {"field": "s", "type": "nominal", "scale": {"domain": ["noflow-SST27", "SH2.5-SST27", "SH5-SST27", "SH6-SST27", "SH7.5-SST27", "SH10-SST27"], "range": ["#ff0000", "#00ff00", "#0000ff", "#ff00ff", "#808080", "#000000"]}, "legend": null}
          }
        }
      ]
    },
    {
      "title": {"text": "SST29", "fontSize": 22, "offset": 7, "anchor": "middle", "dx": 22},
      "spacing": 8,
      "resolve": {"scale": {"x": "independent", "y": "independent", "color": "independent"}, "axis": {"x": "independent", "y": "independent"}, "legend": {"color": "independent"}},
      "vconcat": [
        {
          "width": 495, "height": 164,
          "title": {"text": "(b)", "anchor": "start", "frame": "group", "dx": -97, "dy": 33, "offset": 0, "fontSize": 26},
          "data": {"name": "p29"},
          "mark": {"type": "line", "strokeWidth": 2, "interpolate": "monotone"},
          "encoding": {
            "x": {"field": "t", "type": "quantitative", "scale": {"domain": [0, 216], "nice": false}, "axis": {"values": [0, 24, 48, 72, 96, 120, 144, 168, 192, 216], "title": "simulation time (h)"}},
            "y": {"field": "v", "type": "quantitative", "scale": {"domain": [880, 1020], "nice": false, "zero": false}, "axis": {"values": [880, 900, 920, 940, 960, 980, 1000, 1020], "format": "d", "title": "Pressure (hPa)"}},
            "color": {"field": "s", "type": "nominal", "scale": {"domain": ["noflow-SST29", "SH2.5-SST29", "SH5-SST29", "SH6-SST29", "SH7.5-SST29", "SH10-SST29", "SH12.5-SST29"], "range": ["#ff0000", "#00ff00", "#0000ff", "#ff00ff", "#808080", "#000000", "#0080ff"]}, "legend": {"title": null, "orient": "bottom-left", "offset": 9}}
          }
        },
        {
          "width": 495, "height": 164,
          "title": {"text": "(d)", "anchor": "start", "frame": "group", "dx": -97, "dy": 33, "offset": 0, "fontSize": 26},
          "layer": [
            {
              "data": {"name": "v29"},
              "mark": {"type": "line", "strokeWidth": 2, "interpolate": "monotone"},
              "encoding": {
                "x": {"field": "t", "type": "quantitative", "scale": {"domain": [0, 216], "nice": false}, "axis": {"values": [0, 24, 48, 72, 96, 120, 144, 168, 192, 216], "title": "simulation time (h)"}},
                "y": {"field": "v", "type": "quantitative", "scale": {"domain": [0, 80], "nice": false}, "axis": {"values": [0, 20, 40, 60, 80], "title": "V10 (m/s)"}},
                "color": {"field": "s", "type": "nominal", "scale": {"domain": ["noflow-SST29", "SH2.5-SST29", "SH5-SST29", "SH6-SST29", "SH7.5-SST29", "SH10-SST29", "SH12.5-SST29"], "range": ["#ff0000", "#00ff00", "#0000ff", "#ff00ff", "#808080", "#000000", "#0080ff"]}, "legend": {"title": null, "orient": "top-left", "offset": 6}}
              }
            },
            {
              "data": {"name": "box"},
              "mark": {"type": "rect", "filled": false, "stroke": "#000", "strokeWidth": 1.5},
              "encoding": {
                "x": {"field": "t0", "type": "quantitative", "title": "simulation time (h)"},
                "x2": {"field": "t1"},
                "y": {"field": "v0", "type": "quantitative", "title": "V10 (m/s)"},
                "y2": {"field": "v1"}
              }
            }
          ]
        },
        {
          "width": 495, "height": 164,
          "title": {"text": "(f)", "anchor": "start", "frame": "group", "dx": -97, "dy": 33, "offset": 0, "fontSize": 26},
          "data": {"name": "v29"},
          "transform": [{"filter": "datum.t <= 72"}],
          "mark": {"type": "line", "strokeWidth": 2, "interpolate": "monotone"},
          "encoding": {
            "x": {"field": "t", "type": "quantitative", "scale": {"domain": [0, 72], "nice": false}, "axis": {"values": [0, 12, 24, 36, 48, 60, 72], "title": "simulation time (h)", "labelFontSize": 16}},
            "y": {"field": "v", "type": "quantitative", "scale": {"domain": [0, 30], "nice": false}, "axis": {"values": [0, 10, 20, 30], "title": "V10 (m/s)", "labelFontSize": 16}},
            "color": {"field": "s", "type": "nominal", "scale": {"domain": ["noflow-SST29", "SH2.5-SST29", "SH5-SST29", "SH6-SST29", "SH7.5-SST29", "SH10-SST29", "SH12.5-SST29"], "range": ["#ff0000", "#00ff00", "#0000ff", "#ff00ff", "#808080", "#000000", "#0080ff"]}, "legend": null}
          }
        }
      ]
    }
  ],
  "spacing": 4,
  "resolve": {"scale": {"x": "independent", "y": "independent", "color": "independent"}, "axis": {"x": "independent", "y": "independent"}, "legend": {"color": "independent"}}
}
